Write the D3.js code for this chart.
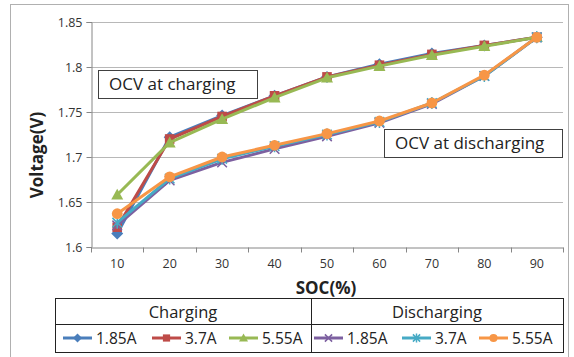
<!DOCTYPE html>
<html>
<head>
<meta charset="utf-8">
<script src="https://cdn.jsdelivr.net/npm/d3@7"></script>
<style>
  body { margin: 0; background: #fff; }
  svg { font-family: "Open Sans", "Noto Sans", sans-serif; }
</style>
</head>
<body>
<div id="chart"></div>
<script>
// chart data
const soc = [10, 20, 30, 40, 50, 60, 70, 80, 90];
const yTicks = [1.6, 1.65, 1.7, 1.75, 1.8, 1.85];

const chg185 = [1.615, 1.722, 1.746, 1.768, 1.789, 1.803, 1.815, 1.824, 1.833];
const chg37 = [1.622, 1.720, 1.745, 1.768, 1.789, 1.802, 1.814, 1.824, 1.833];
const chg555 = [1.658, 1.716, 1.742, 1.766, 1.788, 1.801, 1.813, 1.823, 1.833];
const dis185 = [1.624, 1.674, 1.694, 1.709, 1.723, 1.738, 1.759, 1.790, 1.833];
const dis37 = [1.627, 1.676, 1.698, 1.712, 1.725, 1.739, 1.760, 1.790, 1.833];
const dis555 = [1.637, 1.678, 1.700, 1.713, 1.726, 1.740, 1.760, 1.791, 1.833];

const series = [
  { name: '1.85A', group: 'Charging', values: chg185, color: '#4a7ebb', marker: 'diamond' },
  { name: '3.7A', group: 'Charging', values: chg37, color: '#be4b48', marker: 'square' },
  { name: '5.55A', group: 'Charging', values: chg555, color: '#98b954', marker: 'triangle' },
  { name: '1.85A', group: 'Discharging', values: dis185, color: '#7d60a0', marker: 'x' },
  { name: '3.7A', group: 'Discharging', values: dis37, color: '#46aac5', marker: 'star' },
  { name: '5.55A', group: 'Discharging', values: dis555, color: '#f79646', marker: 'circle' }
];

const width = 574, height = 357;
const margin = { left: 91, right: 11, top: 22, bottom: 110 };

const svg = d3.select('#chart').append('svg')
  .attr('width', width)
  .attr('height', height);

// outer frame
svg.append('rect')
  .attr('x', 10.5).attr('y', 4.5)
  .attr('width', 558).attr('height', 370)
  .attr('fill', 'none').attr('stroke', '#b0b0b0');

const x = d3.scaleBand()
  .domain(soc)
  .range([margin.left, width - margin.right]);

const y = d3.scaleLinear()
  .domain([1.6, 1.85])
  .range([247, margin.top]);

// gridlines
svg.append('g')
  .selectAll('line')
  .data(yTicks.slice(1))
  .join('line')
  .attr('x1', margin.left).attr('x2', width - margin.right)
  .attr('y1', d => Math.round(y(d)) + 0.5).attr('y2', d => Math.round(y(d)) + 0.5)
  .attr('stroke', '#b8b8b8');

// y axis
const yAxis = svg.append('g')
  .attr('transform', `translate(${margin.left + 0.5},0)`)
  .call(d3.axisLeft(y).tickValues(yTicks).tickSize(5).tickFormat(d3.format('')));
yAxis.select('.domain').attr('stroke', '#868686');
yAxis.selectAll('.tick line').attr('stroke', '#868686');
yAxis.selectAll('.tick text')
  .attr('font-size', 12.5).attr('fill', '#333')
  .attr('font-family', '"Open Sans", sans-serif')
  .attr('x', -9);

// x axis
const xAxis = svg.append('g')
  .attr('transform', `translate(0,${Math.round(y(1.6)) + 0.5})`)
  .call(d3.axisBottom(x).tickSize(0).tickPadding(12));
xAxis.select('.domain').attr('stroke', '#868686');
xAxis.selectAll('.tick text')
  .attr('font-size', 12.5).attr('fill', '#333')
  .attr('font-family', '"Open Sans", sans-serif');
// boundary ticks between categories
xAxis.selectAll('.boundary')
  .data(d3.range(soc.length + 1))
  .join('line')
  .attr('x1', i => Math.round(margin.left + i * x.step()) + 0.5)
  .attr('x2', i => Math.round(margin.left + i * x.step()) + 0.5)
  .attr('y1', 0).attr('y2', 5)
  .attr('stroke', '#868686');

// axis titles
svg.append('text')
  .attr('transform', 'translate(43,155) rotate(-90)')
  .attr('text-anchor', 'middle')
  .attr('font-size', 17).attr('font-weight', 'bold').attr('fill', '#222')
  .text('Voltage(V)');

svg.append('text')
  .attr('x', 326).attr('y', 294)
  .attr('text-anchor', 'middle')
  .attr('font-size', 17).attr('font-weight', 'bold').attr('fill', '#222')
  .text('SOC(%)');

const cx = d => x(d) + x.bandwidth() / 2;

function drawMarker(g, type, color, size) {
  const s = size;
  if (type === 'diamond') {
    g.append('path').attr('d', `M0,${-s}L${s},0L0,${s}L${-s},0Z`).attr('fill', color);
  } else if (type === 'square') {
    g.append('rect').attr('x', -s * 0.8).attr('y', -s * 0.8)
      .attr('width', s * 1.6).attr('height', s * 1.6).attr('fill', color);
  } else if (type === 'triangle') {
    g.append('path').attr('d', `M0,${-s}L${s},${s * 0.8}L${-s},${s * 0.8}Z`).attr('fill', color);
  } else if (type === 'circle') {
    g.append('circle').attr('r', s * 0.9).attr('fill', color);
  } else if (type === 'x') {
    g.append('path').attr('d', `M${-s * 0.8},${-s * 0.8}L${s * 0.8},${s * 0.8}M${-s * 0.8},${s * 0.8}L${s * 0.8},${-s * 0.8}`)
      .attr('stroke', color).attr('stroke-width', 1.5);
  } else if (type === 'star') {
    g.append('path').attr('d', `M${-s * 0.8},${-s * 0.8}L${s * 0.8},${s * 0.8}M${-s * 0.8},${s * 0.8}L${s * 0.8},${-s * 0.8}M0,${-s}L0,${s}`)
      .attr('stroke', color).attr('stroke-width', 1.5);
  }
}

const line = d3.line()
  .x((d, i) => cx(soc[i]))
  .y(d => y(d));

// lines and markers
series.forEach(s => {
  svg.append('path')
    .datum(s.values)
    .attr('d', line)
    .attr('fill', 'none')
    .attr('stroke', s.color)
    .attr('stroke-width', 3)
    .attr('stroke-linejoin', 'round');
  s.values.forEach((v, i) => {
    const g = svg.append('g').attr('transform', `translate(${cx(soc[i])},${y(v)})`);
    drawMarker(g, s.marker, s.color, 6);
  });
});

// annotation boxes
function noteBox(x0, y0, w, h, label) {
  svg.append('rect')
    .attr('x', x0 + 0.5).attr('y', y0 + 0.5)
    .attr('width', w).attr('height', h)
    .attr('fill', '#fff').attr('stroke', '#404040');
  svg.append('text')
    .attr('x', x0 + 11).attr('y', y0 + h / 2 + 6)
    .attr('font-size', 17).attr('fill', '#222')
    .text(label);
}
noteBox(98, 70, 159, 28, 'OCV at charging');
noteBox(384, 129, 178, 28, 'OCV at discharging');

// legend table
const legX0 = 55, legX1 = 563, legMid = 311;
const legY0 = 298, legY1 = 324, legY2 = 352;
const leg = svg.append('g');
leg.append('rect')
  .attr('x', legX0 + 0.5).attr('y', legY0 + 0.5)
  .attr('width', legX1 - legX0).attr('height', legY2 - legY0)
  .attr('fill', '#fff').attr('stroke', '#222');
leg.append('line')
  .attr('x1', legX0).attr('x2', legX1).attr('y1', legY1 + 0.5).attr('y2', legY1 + 0.5)
  .attr('stroke', '#222');
leg.append('line')
  .attr('x1', legMid + 0.5).attr('x2', legMid + 0.5).attr('y1', legY0).attr('y2', legY2)
  .attr('stroke', '#222');

const groups = ['Charging', 'Discharging'];
leg.selectAll('.grp')
  .data(groups)
  .join('text')
  .attr('x', (d, i) => i === 0 ? (legX0 + legMid) / 2 : (legMid + legX1) / 2)
  .attr('y', legY1 - 6)
  .attr('text-anchor', 'middle')
  .attr('font-size', 16.5).attr('fill', '#222')
  .text(d => d);

const itemX = [63, 152, 229, 314, 402, 479];
series.forEach((s, i) => {
  const g = leg.append('g').attr('transform', `translate(${itemX[i]},${legY1 + 14})`);
  g.append('line').attr('x1', 0).attr('x2', 29).attr('stroke', s.color).attr('stroke-width', 3);
  const m = g.append('g').attr('transform', 'translate(14.5,0)');
  drawMarker(m, s.marker, s.color, 4.5);
  g.append('text')
    .attr('x', 33).attr('y', 6)
    .attr('font-size', 15.5).attr('fill', '#222')
    .text(s.name);
});
</script>
</body>
</html>
